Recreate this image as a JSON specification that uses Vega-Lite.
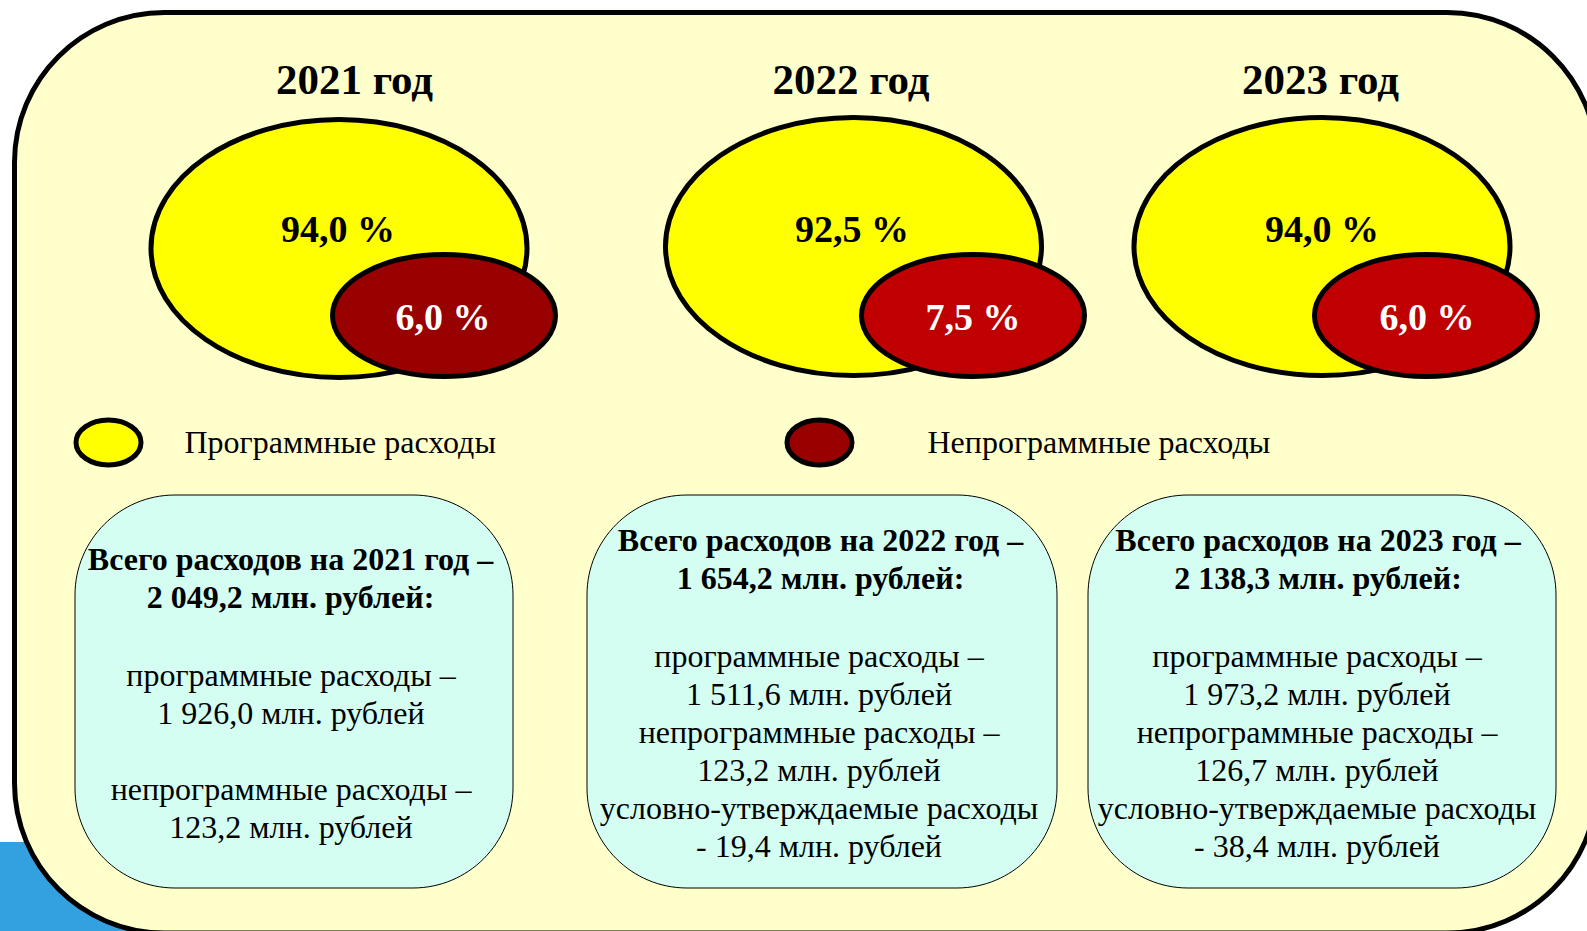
{
  "$schema": "https://vega.github.io/schema/vega-lite/v6.json",
  "width": 1587,
  "height": 931,
  "autosize": {"type": "none"},
  "padding": 0,
  "background": "white",
  "config": {"view": {"stroke": null}, "text": {"font": "Liberation Serif"}},
  "datasets": {
    "decor": [{"part": "frame"}],
    "shares": [
      {"year": 2021, "kind": "Программные расходы", "share": 94.0, "label": "94,0 %"},
      {"year": 2021, "kind": "Непрограммные расходы", "share": 6.0, "label": "6,0 %"},
      {"year": 2022, "kind": "Программные расходы", "share": 92.5, "label": "92,5 %"},
      {"year": 2022, "kind": "Непрограммные расходы", "share": 7.5, "label": "7,5 %"},
      {"year": 2023, "kind": "Программные расходы", "share": 94.0, "label": "94,0 %"},
      {"year": 2023, "kind": "Непрограммные расходы", "share": 6.0, "label": "6,0 %"}
    ],
    "totals": [
      {"year": 2021, "title": "2021 год", "total": 2049.2, "programme": 1926.0, "nonprogramme": 123.2, "conditional": null,
       "header": "Всего расходов на 2021 год –\n2 049,2 млн. рублей:",
       "programmeText": "программные расходы –\n1 926,0 млн. рублей",
       "otherText": "непрограммные расходы –\n123,2 млн. рублей"},
      {"year": 2022, "title": "2022 год", "total": 1654.2, "programme": 1511.6, "nonprogramme": 123.2, "conditional": 19.4,
       "header": "Всего расходов на 2022 год –\n1 654,2 млн. рублей:",
       "programmeText": "программные расходы –\n1 511,6 млн. рублей",
       "otherText": "непрограммные расходы –\n123,2 млн. рублей\nусловно-утверждаемые расходы\n- 19,4 млн. рублей"},
      {"year": 2023, "title": "2023 год", "total": 2138.3, "programme": 1973.2, "nonprogramme": 126.7, "conditional": 38.4,
       "header": "Всего расходов на 2023 год –\n2 138,3 млн. рублей:",
       "programmeText": "программные расходы –\n1 973,2 млн. рублей",
       "otherText": "непрограммные расходы –\n126,7 млн. рублей\nусловно-утверждаемые расходы\n- 38,4 млн. рублей"}
    ]
  },
  "layer": [
    {
      "data": {"name": "decor"},
      "mark": {"type": "rect", "fill": "#33A0E0", "clip": false},
      "encoding": {
        "x": {"datum": 0, "type": "quantitative", "scale": {"domain": [0, 1], "range": [0, 160]}, "axis": null},
        "x2": {"datum": 1},
        "y": {"datum": 0, "type": "quantitative", "scale": {"domain": [0, 1], "range": [842, 940]}, "axis": null},
        "y2": {"datum": 1}
      }
    },
    {
      "data": {"name": "decor"},
      "mark": {"type": "rect", "fill": "#FFFFCC", "stroke": "black", "strokeWidth": 5, "cornerRadius": 150, "clip": false},
      "encoding": {
        "x": {"datum": 0, "type": "quantitative", "scale": {"domain": [0, 1], "range": [14.5, 1597]}, "axis": null},
        "x2": {"datum": 1},
        "y": {"datum": 0, "type": "quantitative", "scale": {"domain": [0, 1], "range": [12.5, 933]}, "axis": null},
        "y2": {"datum": 1}
      }
    },
    {
      "data": {"name": "totals"},
      "mark": {"type": "bar", "fill": "#D3FEF1", "stroke": "black", "strokeWidth": 1, "cornerRadius": 100},
      "encoding": {
        "x": {"field": "year", "type": "quantitative", "scale": {"domain": [2021, 2022, 2023], "range": [294, 822, 1322], "padding": 0}, "axis": null},
        "y": {"datum": 0, "type": "quantitative", "scale": {"domain": [0, 1], "range": [495, 888], "padding": 0}, "axis": null},
        "y2": {"datum": 1},
        "size": {"field": "year", "type": "quantitative", "scale": {"domain": [2021, 2022, 2023], "range": [438, 470, 468]}, "legend": null}
      }
    },
    {
      "data": {"name": "shares"},
      "transform": [{"filter": "datum.kind === 'Программные расходы'"}],
      "mark": {"type": "point", "filled": true, "opacity": 1, "stroke": "black", "strokeWidth": 5, "size": 141376,
               "shape": "M -1 0 C -1 -0.3789 -0.5523 -0.686 0 -0.686 C 0.5523 -0.686 1 -0.3789 1 0 C 1 0.3789 0.5523 0.686 0 0.686 C -0.5523 0.686 -1 0.3789 -1 0 Z"},
      "encoding": {
        "x": {"field": "year", "type": "quantitative", "scale": {"domain": [2021, 2022, 2023], "range": [339, 853.5, 1322]}, "axis": null},
        "y": {"field": "year", "type": "quantitative", "scale": {"domain": [2021, 2022, 2023], "range": [248.5, 246.5, 246.5]}, "axis": null},
        "fill": {"field": "kind", "type": "nominal",
                 "scale": {"domain": ["Программные расходы"], "range": ["#FFFF00"]},
                 "legend": {"orient": "none", "legendX": 73.5, "legendY": 407.5, "direction": "horizontal", "title": null,
                            "symbolType": "M -1 0 C -1 -0.3811 -0.5523 -0.69 0 -0.69 C 0.5523 -0.69 1 -0.3811 1 0 C 1 0.3811 0.5523 0.69 0 0.69 C -0.5523 0.69 -1 0.3811 -1 0 Z",
                            "symbolSize": 4225, "symbolStrokeColor": "black", "symbolStrokeWidth": 5, "symbolOpacity": 1,
                            "labelFont": "Liberation Serif", "labelFontSize": 32, "labelColor": "black", "labelOffset": 41,
                            "labelLimit": 0, "padding": 0, "offset": 0}}
      }
    },
    {
      "data": {"name": "shares"},
      "transform": [{"filter": "datum.kind === 'Непрограммные расходы'"}],
      "mark": {"type": "point", "filled": true, "opacity": 1, "stroke": "black", "strokeWidth": 5, "size": 49729,
               "shape": "M -1 0 C -1 -0.3021 -0.5523 -0.547 0 -0.547 C 0.5523 -0.547 1 -0.3021 1 0 C 1 0.3021 0.5523 0.547 0 0.547 C -0.5523 0.547 -1 0.3021 -1 0 Z"},
      "encoding": {
        "x": {"field": "year", "type": "quantitative", "scale": {"domain": [2021, 2022, 2023], "range": [444, 973, 1426]}, "axis": null},
        "y": {"field": "year", "type": "quantitative", "scale": {"domain": [2021, 2023], "range": [315.5, 315.5]}, "axis": null},
        "fill": {"condition": {"test": "datum.year !== 2021", "value": "#C00000"}, "field": "kind", "type": "nominal",
                 "scale": {"domain": ["Непрограммные расходы"], "range": ["#990000"]},
                 "legend": {"orient": "none", "legendX": 784.5, "legendY": 407.5, "direction": "horizontal", "title": null,
                            "symbolType": "M -1 0 C -1 -0.3811 -0.5523 -0.69 0 -0.69 C 0.5523 -0.69 1 -0.3811 1 0 C 1 0.3811 0.5523 0.69 0 0.69 C -0.5523 0.69 -1 0.3811 -1 0 Z",
                            "symbolSize": 4225, "symbolStrokeColor": "black", "symbolStrokeWidth": 5, "symbolOpacity": 1,
                            "labelFont": "Liberation Serif", "labelFontSize": 32, "labelColor": "black", "labelOffset": 73,
                            "labelLimit": 0, "padding": 0, "offset": 0}}
      }
    },
    {
      "data": {"name": "shares"},
      "transform": [{"filter": "datum.kind === 'Программные расходы'"}],
      "mark": {"type": "text", "font": "Liberation Serif", "fontWeight": "bold", "fontSize": 38, "fill": "black", "align": "center", "baseline": "middle"},
      "encoding": {
        "x": {"field": "year", "type": "quantitative", "scale": {"domain": [2021, 2022, 2023], "range": [338, 852, 1322]}, "axis": null},
        "y": {"field": "year", "type": "quantitative", "scale": {"domain": [2021, 2023], "range": [230.5, 230.5]}, "axis": null},
        "text": {"field": "label"}
      }
    },
    {
      "data": {"name": "shares"},
      "transform": [{"filter": "datum.kind === 'Непрограммные расходы'"}],
      "mark": {"type": "text", "font": "Liberation Serif", "fontWeight": "bold", "fontSize": 38, "fill": "white", "align": "center", "baseline": "middle"},
      "encoding": {
        "x": {"field": "year", "type": "quantitative", "scale": {"domain": [2021, 2022, 2023], "range": [443, 973, 1427]}, "axis": null},
        "y": {"field": "year", "type": "quantitative", "scale": {"domain": [2021, 2023], "range": [319, 319]}, "axis": null},
        "text": {"field": "label"}
      }
    },
    {
      "data": {"name": "totals"},
      "mark": {"type": "text", "font": "Liberation Serif", "fontWeight": "bold", "fontSize": 43, "fill": "black", "align": "center", "baseline": "middle"},
      "encoding": {
        "x": {"field": "year", "type": "quantitative", "scale": {"domain": [2021, 2022, 2023], "range": [354.5, 851, 1320.5]}, "axis": null},
        "y": {"field": "year", "type": "quantitative", "scale": {"domain": [2021, 2023], "range": [81, 81]}, "axis": null},
        "text": {"field": "title"}
      }
    },
    {
      "data": {"name": "totals"},
      "mark": {"type": "text", "font": "Liberation Serif", "fontWeight": "bold", "fontSize": 32, "lineHeight": 38, "lineBreak": "\n", "fill": "black", "align": "center", "baseline": "middle"},
      "encoding": {
        "x": {"field": "year", "type": "quantitative", "scale": {"domain": [2021, 2022, 2023], "range": [290.5, 820.5, 1318]}, "axis": null},
        "y": {"field": "year", "type": "quantitative", "scale": {"domain": [2021, 2022, 2023], "range": [560, 541, 541]}, "axis": null},
        "text": {"field": "header"}
      }
    },
    {
      "data": {"name": "totals"},
      "mark": {"type": "text", "font": "Liberation Serif", "fontSize": 32, "lineHeight": 38, "lineBreak": "\n", "fill": "black", "align": "center", "baseline": "middle"},
      "encoding": {
        "x": {"field": "year", "type": "quantitative", "scale": {"domain": [2021, 2022, 2023], "range": [291, 819, 1317]}, "axis": null},
        "y": {"field": "year", "type": "quantitative", "scale": {"domain": [2021, 2022, 2023], "range": [676, 657, 657]}, "axis": null},
        "text": {"field": "programmeText"}
      }
    },
    {
      "data": {"name": "totals"},
      "mark": {"type": "text", "font": "Liberation Serif", "fontSize": 32, "lineHeight": 38, "lineBreak": "\n", "fill": "black", "align": "center", "baseline": "middle"},
      "encoding": {
        "x": {"field": "year", "type": "quantitative", "scale": {"domain": [2021, 2022, 2023], "range": [291, 819, 1317]}, "axis": null},
        "y": {"field": "year", "type": "quantitative", "scale": {"domain": [2021, 2022, 2023], "range": [790, 733, 733]}, "axis": null},
        "text": {"field": "otherText"}
      }
    }
  ],
  "resolve": {"scale": {"x": "independent", "y": "independent", "size": "independent", "fill": "independent"}}
}
